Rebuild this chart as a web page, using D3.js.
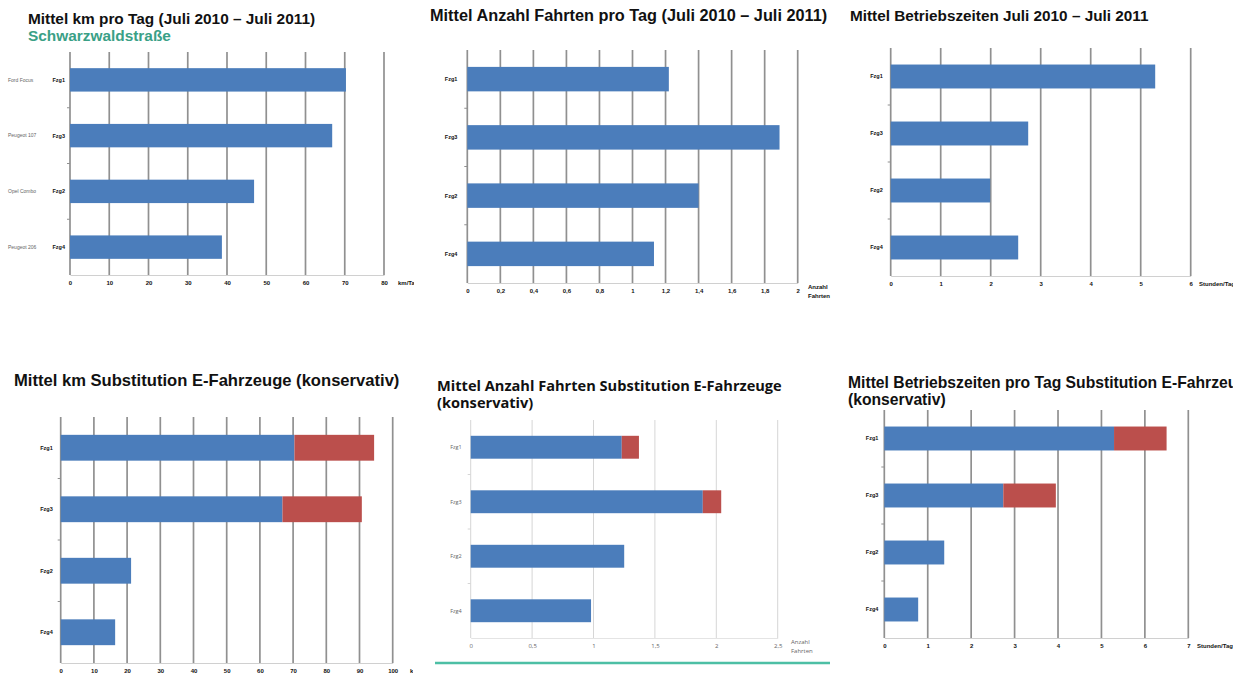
<!DOCTYPE html>
<html>
<head>
<meta charset="utf-8">
<script src="https://cdn.jsdelivr.net/npm/d3@7"></script>
<style>
  body { margin: 0; background: #fff; }
</style>
</head>
<body>
<div id="chart"></div>
<script>
// vehicles, in the order the charts list them
const fzgLabels = ["Fzg1", "Fzg3", "Fzg2", "Fzg4"];
const vehicleNames = ["Ford Focus", "Peugeot 107", "Opel Combo", "Peugeot 206"];

// Juli 2010 - Juli 2011
const kmPerDay = [70.3, 66.8, 46.9, 38.7];
const tripsPerDay = [1.22, 1.89, 1.40, 1.13];
const hoursPerDay = [5.29, 2.75, 1.99, 2.55];

// substitution E-Fahrzeuge (konservativ): blue part + red part
const kmSubstBase = [70.4, 66.8, 21.2, 16.4];
const kmSubstExtra = [24.0, 23.9, 0, 0];
const tripsSubstBase = [1.23, 1.89, 1.25, 0.98];
const tripsSubstExtra = [0.14, 0.15, 0, 0];
const hoursSubstBase = [5.29, 2.74, 1.38, 0.78];
const hoursSubstExtra = [1.21, 1.21, 0, 0];

// tick values
const kmTicks = [0, 10, 20, 30, 40, 50, 60, 70, 80];
const tripTicks = [0, 0.2, 0.4, 0.6, 0.8, 1, 1.2, 1.4, 1.6, 1.8, 2];
const hourTicks = [0, 1, 2, 3, 4, 5, 6];
const kmSubstTicks = [0, 10, 20, 30, 40, 50, 60, 70, 80, 90, 100];
const tripSubstTicks = [0, 0.5, 1, 1.5, 2, 2.5];
const hourSubstTicks = [0, 1, 2, 3, 4, 5, 6, 7];

const BLUE = "#4b7dbb";
const RED = "#bb4f4c";
const GREEN = "#3aa086";

const de = d3.formatLocale({decimal: ",", thousands: ".", grouping: [3], currency: ["", " €"]});
const fmt = de.format("~g");

const panels = [
    {
        frame: [0, 0, 414, 300], titleSize: 15.4,
        titles: [
            {text: "Mittel km pro Tag (Juli 2010 – Juli 2011)", x: 28, y: 24},
            {text: "Schwarzwaldstraße", x: 28, y: 41, color: GREEN}
        ],
        x0: 70, x1: 384, yTop: 52, yBottom: 275, tickPad: 6,
        ticks: kmTicks, base: kmPerDay, extra: null, labelGap: 5,
        names: vehicleNames,
        axisLabel: ["km/Tag"], axisLabelX: 398
    },
    {
        frame: [420, 0, 414, 310], titleSize: 16.3,
        titles: [{text: "Mittel Anzahl Fahrten pro Tag (Juli 2010 – Juli 2011)", x: 430, y: 21}],
        x0: 467.3, x1: 797.7, yTop: 50, yBottom: 283, tickPad: 6,
        ticks: tripTicks, base: tripsPerDay, extra: null, labelGap: 10,
        axisLabel: ["Anzahl", "Fahrten"], axisLabelX: 808
    },
    {
        frame: [840, 0, 393, 300], titleSize: 15.3,
        titles: [{text: "Mittel Betriebszeiten Juli 2010 – Juli 2011", x: 850, y: 21}],
        x0: 890.7, x1: 1190.7, yTop: 48, yBottom: 276, tickPad: 6,
        ticks: hourTicks, base: hoursPerDay, extra: null, labelGap: 8,
        axisLabel: ["Stunden/Tag"], axisLabelX: 1199
    },
    {
        frame: [0, 360, 413, 318], titleSize: 16.6,
        titles: [{text: "Mittel km Substitution E-Fahrzeuge (konservativ)", x: 14, y: 386}],
        x0: 60.7, x1: 392.7, yTop: 417, yBottom: 663, tickPad: 6,
        ticks: kmSubstTicks, base: kmSubstBase, extra: kmSubstExtra, labelGap: 8,
        axisLabel: ["km/Tag"], axisLabelX: 410
    },
    {
        frame: [420, 370, 420, 308], titleSize: 14.6, light: true,
        titles: [
            {text: "Mittel Anzahl Fahrten Substitution E-Fahrzeuge", x: 437, y: 391},
            {text: "(konservativ)", x: 437, y: 408}
        ],
        x0: 470.7, x1: 777.7, yTop: 420, yBottom: 638, tickPad: 6,
        ticks: tripSubstTicks, base: tripsSubstBase, extra: tripsSubstExtra, labelGap: 9,
        axisLabel: ["Anzahl", "Fahrten"], axisLabelX: 791,
        rule: {x1: 435, x2: 830, y: 663}
    },
    {
        frame: [840, 370, 393, 308], titleSize: 15.7,
        titles: [
            {text: "Mittel Betriebszeiten pro Tag Substitution E-Fahrzeuge", x: 848, y: 388},
            {text: "(konservativ)", x: 848, y: 405}
        ],
        x0: 884.3, x1: 1188.3, yTop: 410, yBottom: 638, tickPad: 6,
        ticks: hourSubstTicks, base: hoursSubstBase, extra: hoursSubstExtra, labelGap: 6,
        axisLabel: ["Stunden/Tag"], axisLabelX: 1197
    }
];

function drawPanel(root, p) {
    const svg = root.append("svg")
        .attr("x", p.frame[0]).attr("y", p.frame[1])
        .attr("width", p.frame[2]).attr("height", p.frame[3])
        .attr("viewBox", p.frame.join(" "))
        .attr("overflow", "hidden");

    const font = p.light ? "'Open Sans', sans-serif" : "'Liberation Sans', Arial, sans-serif";
    const gridColor = p.light ? "#d6d6d6" : "#909090";
    const gridWidth = p.light ? 1 : 1.7;
    const textColor = p.light ? "#666" : "#111";
    const textWeight = p.light ? "normal" : "bold";

    // titles
    svg.append("g").selectAll("text")
        .data(p.titles)
        .join("text")
        .attr("x", d => d.x).attr("y", d => d.y)
        .attr("fill", d => d.color || "#111")
        .attr("font-family", font)
        .attr("font-weight", "bold")
        .attr("font-size", p.titleSize)
        .text(d => d.text);

    const x = d3.scaleLinear().domain([0, d3.max(p.ticks)]).range([p.x0, p.x1]);
    const y = d3.scaleBand().domain(fzgLabels).range([p.yTop, p.yBottom])
        .paddingInner(0.58).paddingOuter(0.29);

    // vertical grid lines
    svg.append("g").selectAll("line")
        .data(p.ticks)
        .join("line")
        .attr("x1", d => x(d)).attr("x2", d => x(d))
        .attr("y1", p.yTop).attr("y2", p.yBottom)
        .attr("stroke", gridColor)
        .attr("stroke-width", gridWidth);

    // small marks between categories on the value-zero axis
    svg.append("g").selectAll("line")
        .data(d3.range(1, fzgLabels.length))
        .join("line")
        .attr("x1", p.x0 - 3).attr("x2", p.x0)
        .attr("y1", i => p.yTop + i * y.step()).attr("y2", i => p.yTop + i * y.step())
        .attr("stroke", gridColor).attr("stroke-width", 1);

    // bars, stacked where there is a substitution part
    const rows = fzgLabels.map((f, i) => ({fzg: f, base: p.base[i], extra: p.extra ? p.extra[i] : 0}));
    const series = d3.stack().keys(["base", "extra"])(rows);
    svg.append("g").selectAll("g")
        .data(series)
        .join("g")
        .attr("fill", s => s.key === "base" ? BLUE : RED)
        .selectAll("rect")
        .data(s => s.filter(d => d[1] - d[0] > 0))
        .join("rect")
        .attr("x", d => x(d[0]))
        .attr("y", d => y(d.data.fzg))
        .attr("width", d => x(d[1]) - x(d[0]))
        .attr("height", y.bandwidth());

    // x axis
    const axis = d3.axisBottom(x).tickValues(p.ticks).tickFormat(fmt).tickSize(0).tickPadding(p.tickPad);
    const ax = svg.append("g").attr("transform", `translate(0,${p.yBottom})`).call(axis);
    ax.select(".domain").attr("stroke", p.light ? "#e4e4e4" : "#d0d0d0").attr("stroke-width", 1);
    ax.selectAll("text")
        .attr("font-family", font)
        .attr("font-size", 6)
        .attr("font-weight", textWeight)
        .attr("fill", textColor);

    // axis unit label, centred on the tick label row
    const n = p.axisLabel.length;
    svg.append("g").selectAll("text")
        .data(p.axisLabel)
        .join("text")
        .attr("x", p.axisLabelX)
        .attr("y", (d, i) => p.yBottom + p.tickPad + 4.3 + (i - (n - 1) / 2) * 9.5)
        .attr("font-family", font)
        .attr("font-size", 6)
        .attr("font-weight", textWeight)
        .attr("fill", textColor)
        .text(d => d);

    // category labels
    svg.append("g").selectAll("text")
        .data(fzgLabels)
        .join("text")
        .attr("x", p.x0 - p.labelGap)
        .attr("y", d => y(d) + y.bandwidth() / 2)
        .attr("dy", "0.35em")
        .attr("text-anchor", "end")
        .attr("font-family", font)
        .attr("font-size", 5.5)
        .attr("font-weight", textWeight)
        .attr("fill", textColor)
        .text(d => d);

    if (p.names) {
        svg.append("g").selectAll("text")
            .data(p.names)
            .join("text")
            .attr("x", 8)
            .attr("y", (d, i) => y(fzgLabels[i]) + y.bandwidth() / 2)
            .attr("dy", "0.35em")
            .attr("font-family", font)
            .attr("font-size", 5)
            .attr("fill", "#666")
            .text(d => d);
    }

    if (p.rule) {
        svg.append("line")
            .attr("x1", p.rule.x1).attr("x2", p.rule.x2)
            .attr("y1", p.rule.y).attr("y2", p.rule.y)
            .attr("stroke", "#4dbfa5").attr("stroke-width", 2.5);
    }
}

const root = d3.select("#chart")
    .append("svg")
    .attr("width", 1241)
    .attr("height", 678)
    .attr("viewBox", "0 0 1241 678");

panels.forEach(p => drawPanel(root, p));
</script>
</body>
</html>
